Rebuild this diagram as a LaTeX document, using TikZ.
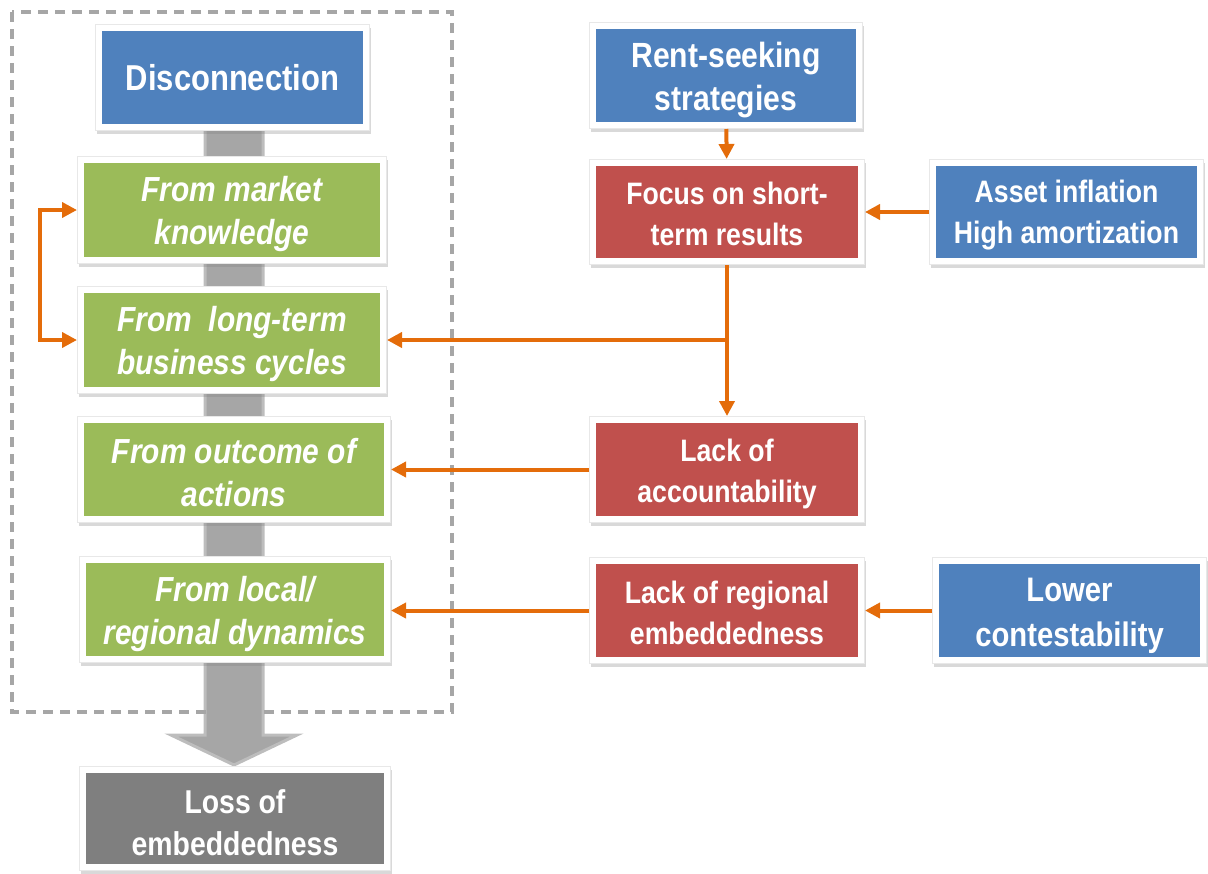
\documentclass[tikz,border=0pt]{standalone}
\usepackage{fontspec}
\setmainfont{Liberation Sans}[FakeStretch=0.86]
\usetikzlibrary{shadows,arrows.meta}
\definecolor{cblue}{HTML}{4F81BD}
\definecolor{cred}{HTML}{C0504D}
\definecolor{cgreen}{HTML}{9BBB59}
\definecolor{cgray}{HTML}{7F7F7F}
\definecolor{corange}{HTML}{E46C0A}
\definecolor{cshaft}{HTML}{A6A6A6}
\definecolor{cshaftedge}{HTML}{BDBDBD}
\definecolor{cdash}{HTML}{A6A6A6}
\definecolor{cframe}{HTML}{E8E8E8}
\newcommand\liftby[1]{\rule{0pt}{#1}}
\tikzset{
  box/.style={rectangle, fill=white, draw=cframe, line width=0.5pt, inner sep=0pt, text=white, align=center,
    drop shadow={opacity=0.3, shadow xshift=0.6pt, shadow yshift=-1.8pt},
    path picture={\fill[#1] ([shift={(3.25pt,3.25pt)}]path picture bounding box.south west)
      rectangle ([shift={(-3.25pt,-3.25pt)}]path picture bounding box.north east);}},
  bigtxt/.style={font=\bfseries\fontsize{18}{21.5}\selectfont},
  midtxt/.style={font=\bfseries\fontsize{15.5}{20.5}\selectfont},
  grtxt/.style={font=\bfseries\itshape\fontsize{17.4}{21.5}\selectfont},
  arr/.style={draw=corange, line width=2pt, -{Triangle[width=7.5pt,length=7.5pt]}},
  arrboth/.style={draw=corange, line width=2pt, {Triangle[width=7.5pt,length=7.5pt]}-{Triangle[width=7.5pt,length=7.5pt]}},
  bigarrow/.style={fill=cshaft, draw=cshaftedge, line width=1.5pt, line join=miter},
  group/.style={draw=cdash, line width=1.6pt, dash pattern=on 5pt off 3.5pt}
}
\begin{document}
\begin{tikzpicture}[x=0.5pt,y=-0.5pt]
\useasboundingbox (0,0) rectangle (1208,873);
% big gray arrow behind the left column
\path[bigarrow] (205,124) -- (205,735) -- (171,735) -- (234,765) -- (297,735) -- (263,735) -- (263,124) -- cycle;
% dashed group
\draw[group] (12,12) rectangle (452,712);
% left column
\node[box=cblue, bigtxt, minimum width=137pt, minimum height=53pt] (disc) at (232.5,77.5) {Disconnection};
\node[box=cgreen, grtxt, minimum width=154.5pt, minimum height=53.5pt] (g1) at (232,210) {\liftby{16.7pt}From market\\knowledge};
\node[box=cgreen, grtxt, minimum width=154.5pt, minimum height=53.5pt] (g2) at (232,340) {\liftby{16.7pt}From~~long-term\\business cycles};
\node[box=cgreen, grtxt, minimum width=156.5pt, minimum height=53pt] (g3) at (234,469.5) {\liftby{16pt}From outcome of\\actions};
\node[box=cgreen, grtxt, minimum width=155.5pt, minimum height=53pt] (g4) at (235,609.5) {\liftby{17pt}From local/\\regional dynamics};
\node[box=cgray, font=\bfseries\fontsize{16.5}{21}\selectfont, minimum width=155.5pt, minimum height=52pt] (loss) at (235,818.5) {\liftby{16pt}Loss of\\embeddedness};
% right columns
\node[box=cblue, font=\bfseries\fontsize{17.5}{21.5}\selectfont, minimum width=136.5pt, minimum height=53pt] (rent) at (726,75.5) {\liftby{17.5pt}Rent-seeking\\strategies};
\node[box=cred, midtxt, minimum width=137.5pt, minimum height=52.5pt] (focus) at (727,212) {\liftby{13.5pt}Focus on short-\\term results};
\node[box=cblue, midtxt, minimum width=137pt, minimum height=52.5pt] (asset) at (1066.5,212) {\liftby{14pt}Asset inflation\\High amortization};
\node[box=cred, midtxt, minimum width=137.5pt, minimum height=53pt] (lacc) at (727,469.5) {\liftby{16pt}Lack of\\accountability};
\node[box=cred, midtxt, minimum width=137.5pt, minimum height=53pt] (lreg) at (727,610.5) {\liftby{14pt}Lack of regional\\embeddedness};
\node[box=cblue, font=\bfseries\fontsize{17}{22.5}\selectfont, minimum width=137pt, minimum height=53pt] (lower) at (1069.5,610.5) {\liftby{17.5pt}Lower\\contestability};
% connectors
\draw[arr] (rent) -- (focus);
\draw[arr] (asset) -- (focus);
\draw[arr] (focus) -- (lacc);
\coordinate (br) at (focus.south |- g2.east);
\draw[arr] (br) -- (g2.east);
\draw[arr] (lacc) -- (g3.east |- lacc.west);
\draw[arr] (lreg) -- (g4.east |- lreg.west);
\draw[arr] (lower) -- (lreg);
\draw[arrboth] (g1.west) -- ++(-37.5,0) |- (g2.west);
\end{tikzpicture}
\end{document}
